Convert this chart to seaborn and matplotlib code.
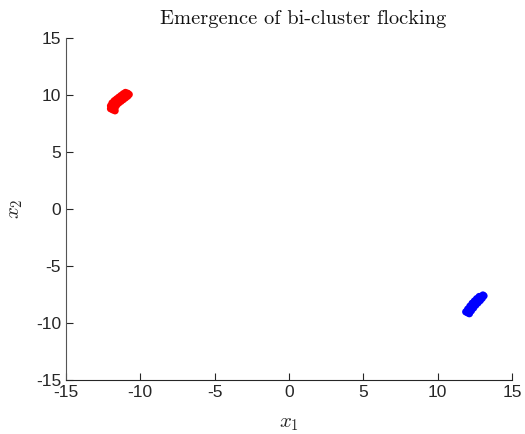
import matplotlib
matplotlib.use("Agg")
import matplotlib.pyplot as plt
import seaborn as sns
import pandas as pd

red_x = [-12.00, -11.85, -11.70, -12.00, -11.85, -11.70, -11.90, -11.75, -11.60,
         -11.75, -11.60, -11.45, -11.60, -11.45, -11.30, -11.45, -11.30, -11.15,
         -11.30, -11.15, -11.00, -11.15, -11.00, -10.85, -11.00, -10.85, -10.75]
red_y = [8.80, 8.70, 8.62, 9.05, 8.95, 8.88, 9.30, 9.20, 9.10,
         9.50, 9.40, 9.30, 9.65, 9.55, 9.45, 9.80, 9.70, 9.60,
         9.95, 9.85, 9.75, 10.10, 10.00, 9.90, 10.22, 10.15, 10.05]

blue_x = [11.90, 12.02, 12.14, 12.03, 12.15, 12.27, 12.18, 12.30, 12.42,
          12.33, 12.45, 12.57, 12.48, 12.60, 12.72, 12.63, 12.75, 12.87,
          12.80, 12.90, 13.00, 13.05, 13.12]
blue_y = [-9.02, -9.10, -9.18, -8.78, -8.85, -8.93, -8.52, -8.60, -8.68,
          -8.27, -8.35, -8.43, -8.07, -8.15, -8.23, -7.87, -7.95, -8.03,
          -7.68, -7.75, -7.83, -7.55, -7.62]

ticks = [-15, -10, -5, 0, 5, 10, 15]
title = "Emergence of bi-cluster flocking"

df = pd.DataFrame({
    "x": red_x + blue_x,
    "y": red_y + blue_y,
    "group": ["red"] * len(red_x) + ["blue"] * len(blue_x),
})

sns.set_style("ticks")
plt.rcParams["font.family"] = ["Liberation Sans", "DejaVu Sans"]
plt.rcParams["mathtext.fontset"] = "cm"

fig = plt.figure(figsize=(5.25, 4.34), dpi=100)
ax = fig.add_axes([0.1257, 0.1244, 0.8493, 0.788])

sns.scatterplot(data=df, x="x", y="y", hue="group",
                palette={"red": "#ff0000", "blue": "#0000ff"},
                marker="o", s=28, edgecolor=None, linewidth=0,
                legend=False, ax=ax)

ax.set_xlim(-15, 15)
ax.set_ylim(-15, 15)
ax.set_xticks(ticks)
ax.set_yticks(ticks)
ax.set_xticklabels([str(t) for t in ticks])
ax.set_yticklabels([str(t) for t in ticks])
ax.tick_params(direction="in", length=5, width=0.8, labelsize=12.5,
               colors="#262626")
for s in ["top", "right"]:
    ax.spines[s].set_visible(False)
ax.spines["left"].set_color("#555555")
ax.spines["bottom"].set_color("#262626")
for s in ["left", "bottom"]:
    ax.spines[s].set_linewidth(0.8)

ax.set_xlabel("$x_1$", fontsize=15, color="#262626", labelpad=10)
ax.set_ylabel("$x_2$", fontsize=15, color="#262626", labelpad=8)
ax.set_title(title, fontsize=14.7, fontfamily="cmr10", color="#111111",
             pad=10, x=0.532)

fig.savefig("out.png", dpi=100)
